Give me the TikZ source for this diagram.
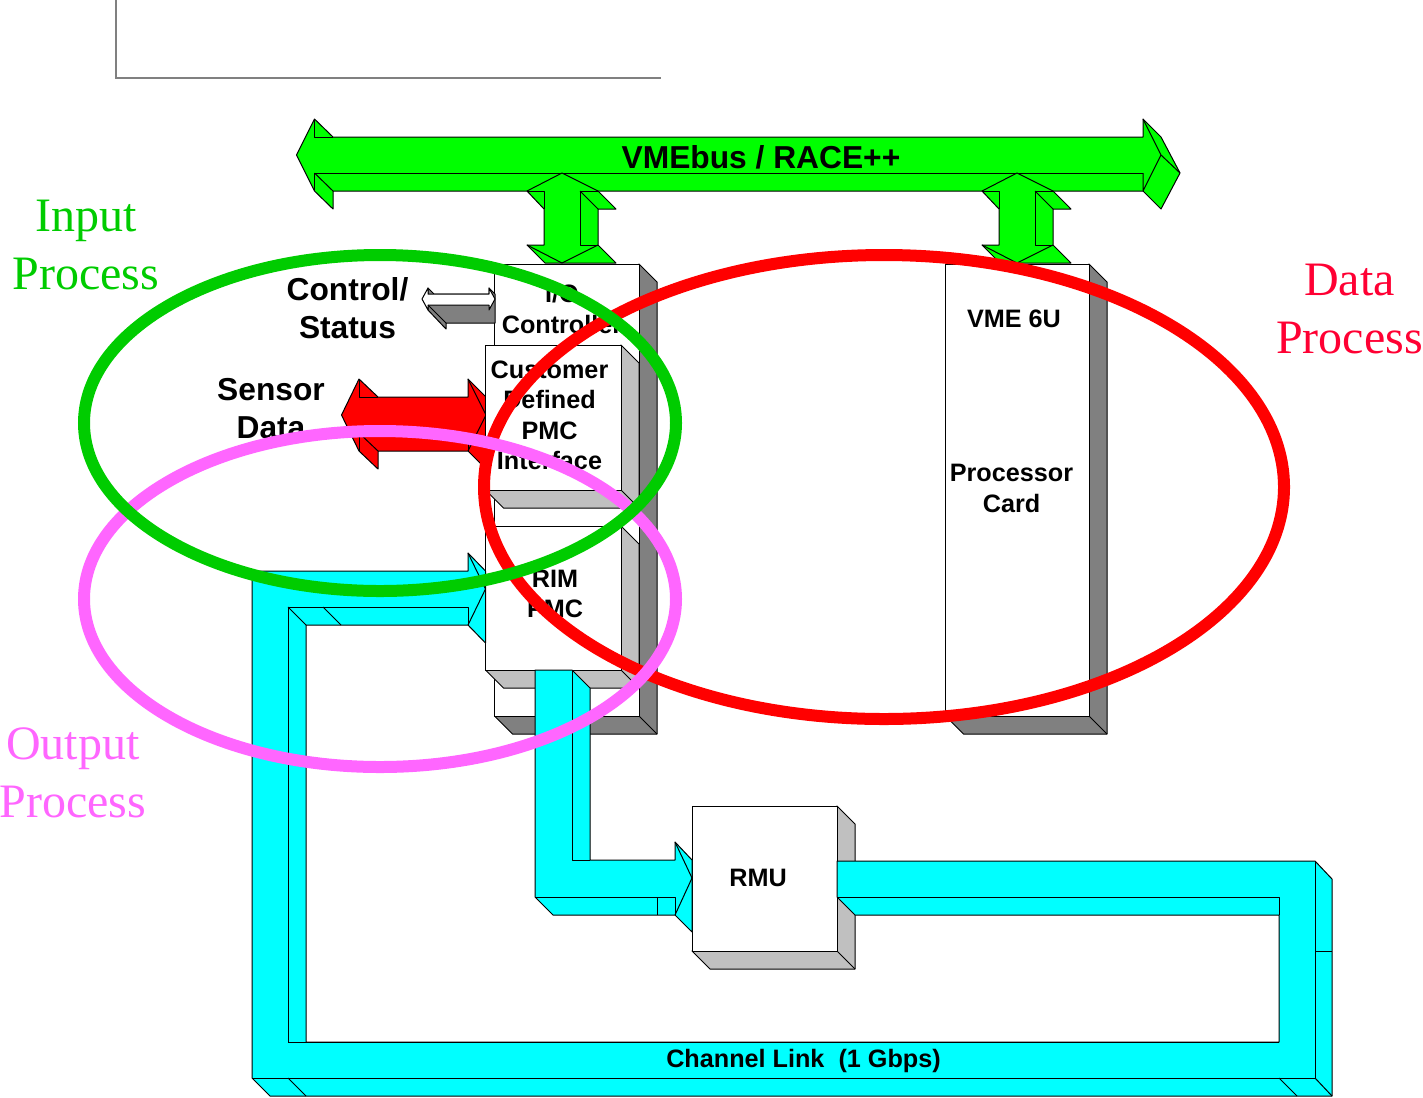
\documentclass[tikz,border=0pt]{standalone}
\usepackage{fontspec}
\setmainfont{Liberation Serif}
\setsansfont{Liberation Sans}
\usepackage{tikz}
\usetikzlibrary{arrows.meta, positioning, calc}
\definecolor{mgreen}{HTML}{00FF00}
\definecolor{mcyan}{HTML}{00FFFF}
\definecolor{mred}{HTML}{FF0000}
\definecolor{mdatatxt}{HTML}{FF0033}
\definecolor{minput}{HTML}{00CC00}
\definecolor{moutput}{HTML}{FF66FF}
\definecolor{mdark}{HTML}{808080}
\definecolor{mlight}{HTML}{C0C0C0}
\tikzset{
  edge/.style={draw=black, line width=0.75pt, line join=round},
  gflow/.style={edge, fill=mgreen},
  rflow/.style={edge, fill=mred},
  cflow/.style={edge, fill=mcyan},
  bigtxt/.style={font=\sffamily\bfseries\fontsize{23.8}{28.5}\selectfont, inner sep=0pt},
  smalltxt/.style={font=\sffamily\bfseries\fontsize{18.9}{22.8}\selectfont, inner sep=0pt},
  grouptxt/.style={font=\fontsize{36}{43.5}\selectfont, inner sep=0pt, align=center},
  ring/.style={line width=9pt},
}
\newcommand{\cardbox}[5]{%
  \draw[edge, fill=#5] (#3,#2) -- (#3+18,#2+18) -- (#3+18,#4+18) -- (#1+18,#4+18) -- (#1,#4) -- cycle;
  \draw[edge] (#3,#4) -- (#3+18,#4+18);
  \draw[edge, fill=white] (#1,#2) rectangle (#3,#4);
}

\begin{document}
\begin{tikzpicture}[x=0.75pt, y=-0.75pt]
  \useasboundingbox (0,0) rectangle (1423,1097);
  \draw[mdark, line width=1.8pt] (116,0) -- (116,78) -- (661,78);

  % backplane bus
  \draw[gflow] (296.5,155) -- (314.5,119) -- (333,137) -- (1143,137) -- (1143,119) -- (1161,137)
    -- (1180,173) -- (1161,209) -- (1143,191) -- (333,191) -- (333,209) -- (314.5,191) -- cycle;
  \draw[edge] (314.5,119) -- (314.5,137) -- (333,137);
  \draw[edge] (314.5,191) -- (314.5,173) -- (1143,173);
  \draw[edge] (314.5,173) -- (333,191);
  \draw[edge] (1143,173) -- (1143,191) -- (1161,155) -- (1143,119);
  \draw[edge] (1161,155) -- (1180,173);

  % bus stubs
  \foreach \vx in {0,455} {
    \begin{scope}[xshift=\vx*0.75pt]
      \draw[gflow] (562,173) -- (598,191) -- (616,209) -- (598,209) -- (598,245) -- (616,263)
        -- (545,263) -- (527,245) -- (544,245) -- (544,209) -- (527,191) -- cycle;
      \draw[edge] (527,191) -- (544,191) -- (544,209);
      \draw[edge] (598,191) -- (580,191) -- (580,245) -- (598,245);
      \draw[edge] (580,191) -- (598,209);
      \draw[edge] (527,245) -- (562,263) -- (598,245);
    \end{scope}
  }

  \cardbox{945.5}{264}{1089}{716}{mdark}
  \cardbox{494.5}{264}{639}{716}{mdark}

  % control/status arrow
  \draw[edge, fill=mdark] (428,288) -- (434,294) -- (489,294) -- (489,288) -- (495,294)
    -- (495,323) -- (446,323) -- (446,329) -- (428,310) -- cycle;
  \draw[edge, fill=white] (422,299) -- (428,288) -- (428,294) -- (489,294) -- (489,288)
    -- (495,299) -- (489,310) -- (489,305) -- (428,305) -- (428,310) -- cycle;
  \draw[edge] (428,305) -- (446,323);

  % sensor data arrow
  \draw[rflow] (341.5,415) -- (359,379) -- (378,397) -- (468,397) -- (468,379) -- (486,397)
    -- (486,469) -- (468,451) -- (378,451) -- (378,469) -- (359,451) -- cycle;
  \draw[edge] (359,379) -- (359,397) -- (378,397);
  \draw[edge] (359,451) -- (359,433) -- (468,433) -- (468,451);
  \draw[edge] (359,433) -- (378,451);
  \draw[edge] (468,379) -- (486,415) -- (468,451);

  \cardbox{485.5}{345}{621}{490}{mlight}
  \cardbox{485.5}{526}{621}{670}{mlight}
  \cardbox{692}{806}{837}{951}{mlight}

  % channel link loop
  \draw[cflow] (837,861) -- (1315,861) -- (1332,879) -- (1332,1096) -- (270,1096) -- (252,1078)
    -- (252,571) -- (468,571) -- (468,553) -- (485.5,571) -- (485.5,643) -- (468,625) -- (306,625)
    -- (306,1042) -- (1279,1042) -- (1279,915) -- (855,915) -- (837,897) -- cycle;
  \draw[edge] (837,897) -- (1279,897) -- (1279,915);
  \draw[edge] (1315,861) -- (1315,1078) -- (252,1078);
  \draw[edge] (1315,951) -- (1332,951);
  \draw[edge] (1315,1078) -- (1332,1096);
  \draw[edge] (1279,1078) -- (1297,1096);
  \draw[edge] (288,1078) -- (306,1096);
  \draw[edge] (288,1042) -- (1279,1042);
  \draw[edge] (288,1042) -- (288,607) -- (468,607) -- (468,625);
  \draw[edge] (288,607) -- (306,625);
  \draw[edge] (323,607) -- (341,625);
  \draw[edge] (468,553) -- (485.5,589) -- (468,625);

  % rim to rmu arrow
  \draw[cflow] (535,670) -- (572,670) -- (590,688) -- (590,860) -- (675,860) -- (675,842)
    -- (692,860) -- (692,932) -- (675,915) -- (553,915) -- (535,897) -- cycle;
  \draw[edge] (572,670) -- (572,860) -- (590,860);
  \draw[edge] (535,897) -- (675,897) -- (675,915);
  \draw[edge] (657,897) -- (657,915);
  \draw[edge] (675,842) -- (692,878) -- (675,915);

  \node[bigtxt] (bustxt) at (761,157) {VMEbus / RACE++};
  \node[bigtxt, align=center] (ctltxt) at (347.5,308) {Control/\\Status};
  \node[bigtxt, align=center] (sentxt) at (271,408.5) {Sensor\\Data};
  \node[smalltxt, align=center] (iotxt) at (562,309) {I/O\\Controller};
  \node[smalltxt, align=center] (pmctxt) at (549.5,415.5) {Customer\\Defined\\PMC\\Interface};
  \node[smalltxt, align=center] (rimtxt) at (555,594) {RIM\\PMC};
  \node[smalltxt] (vmetxt) at (1014,318.5) {VME 6U};
  \node[smalltxt, align=center] (proctxt) at (1011.5,488.5) {Processor\\Card};
  \node[smalltxt] (rmutxt) at (758,878) {RMU};
  \node[smalltxt] (linktxt) at (803.5,1060.5) {Channel Link\ \ (1 Gbps)};

  \node[grouptxt, text=minput] (inlbl) at (86,245) {Input\\Process};
  \node[grouptxt, text=moutput] (outlbl) at (73,773) {Output\\Process};
  \node[grouptxt, text=mdatatxt] (datalbl) at (1349.5,309) {Data\\Process};

  \draw[ring, mred] (884,487) ellipse (400 and 232);
  \draw[ring, moutput] (380,599) ellipse (296 and 168);
  \draw[ring, minput] (380,423) ellipse (296 and 168);
\end{tikzpicture}
\end{document}
